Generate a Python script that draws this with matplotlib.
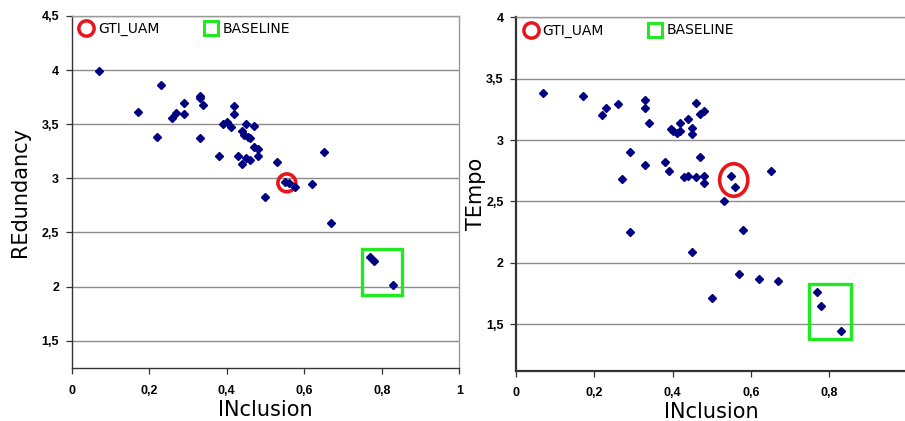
import matplotlib.pyplot as plt
from matplotlib.patches import Ellipse, Rectangle
from matplotlib.lines import Line2D
from matplotlib.ticker import FuncFormatter

_POINT_COLOR = "#000080"
_GTI_COLOR = "#e8161b"
_BASE_COLOR = "#22e822"
_GRID_COLOR = "#8c8c8c"

# Left panel: INclusion vs REdundancy
red_inclusion = [
    0.07, 0.23, 0.17, 0.22, 0.26, 0.27, 0.29, 0.29, 0.33, 0.33, 0.34, 0.33,
    0.42, 0.42, 0.39, 0.40, 0.41, 0.45, 0.47, 0.44, 0.445, 0.455, 0.46, 0.47,
    0.48, 0.48, 0.38, 0.43, 0.44, 0.45, 0.46, 0.53, 0.65, 0.55, 0.56, 0.575,
    0.62, 0.50, 0.67, 0.77, 0.78, 0.83,
]
red_redundancy = [
    3.99, 3.86, 3.61, 3.38, 3.56, 3.60, 3.70, 3.59, 3.76, 3.74, 3.68, 3.37,
    3.67, 3.59, 3.50, 3.52, 3.47, 3.50, 3.48, 3.44, 3.40, 3.38, 3.37, 3.29,
    3.27, 3.21, 3.21, 3.21, 3.13, 3.19, 3.17, 3.15, 3.24, 2.97, 2.96, 2.92,
    2.95, 2.83, 2.59, 2.27, 2.24, 2.01,
]

# Right panel: INclusion vs TEmpo
tem_inclusion = [
    0.07, 0.17, 0.22, 0.23, 0.26, 0.33, 0.33, 0.34, 0.29, 0.27, 0.33, 0.38,
    0.39, 0.395, 0.40, 0.41, 0.42, 0.42, 0.44, 0.45, 0.45, 0.46, 0.47, 0.48,
    0.47, 0.43, 0.44, 0.46, 0.48, 0.48, 0.55, 0.56, 0.65, 0.53, 0.29, 0.45,
    0.58, 0.57, 0.62, 0.67, 0.50, 0.77, 0.78, 0.83,
]
tem_tempo = [
    3.38, 3.36, 3.20, 3.26, 3.29, 3.33, 3.26, 3.14, 2.90, 2.68, 2.80, 2.82,
    2.75, 3.09, 3.07, 3.06, 3.14, 3.07, 3.17, 3.10, 3.05, 3.30, 3.21, 3.24,
    2.86, 2.70, 2.71, 2.70, 2.71, 2.65, 2.71, 2.62, 2.745, 2.50, 2.25, 2.09,
    2.27, 1.91, 1.865, 1.855, 1.71, 1.765, 1.645, 1.445,
]

legend_labels = ["GTI_UAM", "BASELINE"]
x_ticks = [0, 0.2, 0.4, 0.6, 0.8, 1]

plt.rcParams.update({"font.family": ["Liberation Sans", "DejaVu Sans"]})

fig = plt.figure(figsize=(9.05, 4.21), dpi=100)
fig.patch.set_facecolor("white")


def _comma(value, _pos):
    text = f"{value:g}"
    return text.replace(".", ",")


def _style_axes(ax, ylim, yticks, ylabel, ylabelpad):
    ax.set_xlim(0, 1)
    ax.set_ylim(*ylim)
    ax.set_xticks(x_ticks)
    ax.set_yticks(yticks)
    ax.xaxis.set_major_formatter(FuncFormatter(_comma))
    ax.yaxis.set_major_formatter(FuncFormatter(_comma))
    ax.tick_params(axis="both", labelsize=9, length=4, width=0.9,
                   colors="#333333", pad=5)
    ax.tick_params(axis="x", pad=8)
    for label in ax.get_xticklabels() + ax.get_yticklabels():
        label.set_fontweight("bold")
        label.set_color("black")
    ax.grid(axis="y", color=_GRID_COLOR, linewidth=1.0)
    ax.set_axisbelow(True)
    for side in ("top", "right"):
        ax.spines[side].set_color("#999999")
        ax.spines[side].set_linewidth(1.0)
    for side in ("left", "bottom"):
        ax.spines[side].set_color("#333333")
        ax.spines[side].set_linewidth(1.0)
    ax.set_xlabel("INclusion", family="DejaVu Sans", fontsize=15, labelpad=2)
    ax.set_ylabel(ylabel, family="DejaVu Sans", fontsize=15, labelpad=ylabelpad)
    handles = [
        Line2D([], [], linestyle="none", marker="o", markersize=11,
               markerfacecolor="none", markeredgecolor=_GTI_COLOR,
               markeredgewidth=2.5),
        Line2D([], [], linestyle="none", marker="s", markersize=10,
               markerfacecolor="none", markeredgecolor=_BASE_COLOR,
               markeredgewidth=2.2),
    ]
    ax.legend(handles, legend_labels, loc="upper left", ncol=2,
              frameon=False, prop={"family": "DejaVu Sans", "size": 10},
              handlelength=1.0, handletextpad=0.35, columnspacing=3.2,
              borderaxespad=0.3, bbox_to_anchor=(-0.005, 1.01))


ax_left = fig.add_axes([0.0792, 0.1252, 0.4283, 0.837])
ax_left.plot(red_inclusion, red_redundancy, linestyle="none", marker="D",
             markersize=4.5, color=_POINT_COLOR)
ax_left.add_patch(Ellipse((0.555, 2.958), 0.046, 0.165, fill=False,
                          edgecolor=_GTI_COLOR, linewidth=2.6))
ax_left.add_patch(Rectangle((0.748, 1.925), 0.104, 0.425, fill=False,
                            edgecolor=_BASE_COLOR, linewidth=2.4))
_style_axes(ax_left, (1.245, 4.5), [1.5, 2, 2.5, 3, 3.5, 4, 4.5],
            "REdundancy", 8)

ax_right = fig.add_axes([0.5702, 0.1195, 0.4326, 0.8394])
ax_right.plot(tem_inclusion, tem_tempo, linestyle="none", marker="D",
              markersize=4.5, color=_POINT_COLOR)
ax_right.add_patch(Ellipse((0.556, 2.674), 0.072, 0.265, fill=False,
                           edgecolor=_GTI_COLOR, linewidth=2.6))
ax_right.add_patch(Rectangle((0.748, 1.381), 0.107, 0.448, fill=False,
                             edgecolor=_BASE_COLOR, linewidth=2.4))
_style_axes(ax_right, (1.12, 4), [1.5, 2, 2.5, 3, 3.5, 4], "TEmpo", 0)
ax_right.spines["left"].set_linewidth(1.6)
ax_right.spines["bottom"].set_linewidth(1.6)

fig.savefig("out.png", dpi=100, facecolor=fig.get_facecolor())
